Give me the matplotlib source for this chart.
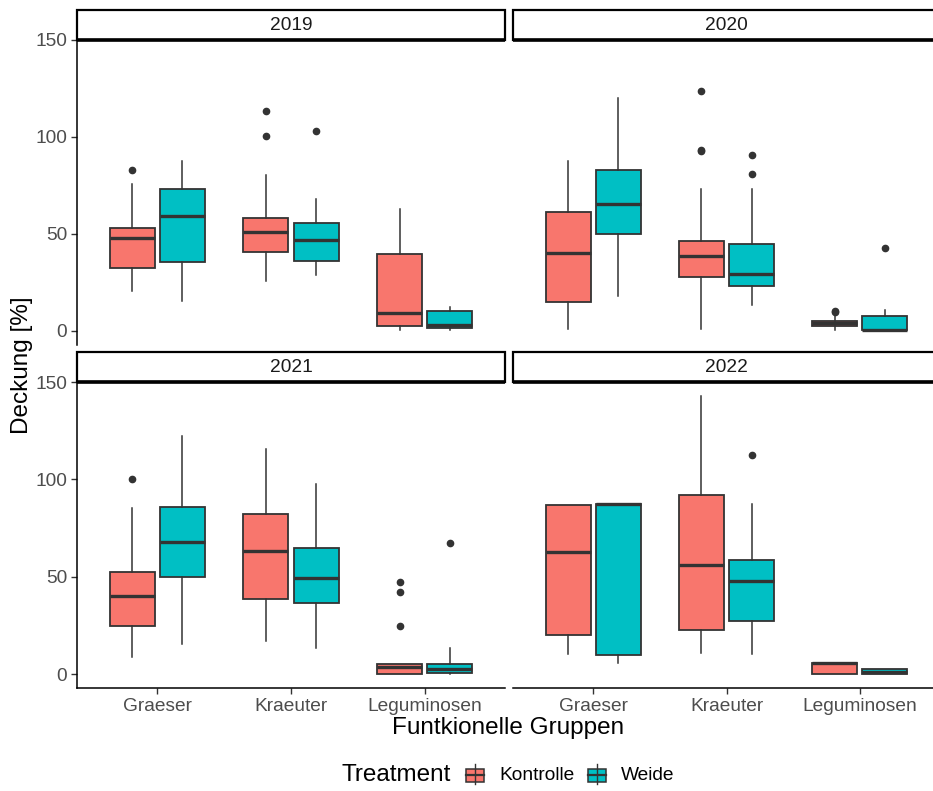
import matplotlib
matplotlib.use("Agg")
import matplotlib.pyplot as plt
from matplotlib.patches import Rectangle
from matplotlib.lines import Line2D

plt.rcParams['font.family'] = ['Liberation Sans', 'DejaVu Sans']

# ---------------- data ----------------
years = ["2019", "2020", "2021", "2022"]
groups = ["Graeser", "Kraeuter", "Leguminosen"]
treatments = ["Kontrolle", "Weide"]
yticks = [0, 50, 100, 150]

# [whislo, q1, med, q3, whishi] per group
stats_2019_kontrolle = [[20.5, 32.5, 47.6, 52.9, 75.6], [25.6, 40.7, 50.7, 57.9, 80.2], [0.5, 2.6, 8.9, 39.3, 62.7]]
fliers_2019_kontrolle = [[82.6], [113.0, 100.2], []]
stats_2019_weide = [[15.3, 35.2, 59.3, 73.2, 87.5], [28.7, 36.1, 46.7, 55.7, 67.9], [0.5, 1.5, 2.9, 10.0, 12.4]]
fliers_2019_weide = [[], [102.7], []]

stats_2020_kontrolle = [[0.9, 14.9, 40.0, 61.3, 87.5], [0.9, 27.8, 38.5, 46.4, 73.0], [0.5, 2.6, 4.1, 5.2, 7.6]]
fliers_2020_kontrolle = [[], [123.7, 93.3, 92.6], [10.0, 9.6]]
stats_2020_weide = [[17.9, 50.0, 65.3, 82.6, 120.0], [13.2, 23.2, 29.2, 44.8, 73.0], [0.0, 0.3, 0.5, 7.7, 10.5]]
fliers_2020_weide = [[], [90.4, 80.6], [42.8]]

stats_2021_kontrolle = [[8.6, 24.7, 39.9, 52.4, 85.1], [16.8, 38.5, 63.0, 82.3, 115.4], [0.0, 0.0, 3.9, 5.1, 5.1]]
fliers_2021_kontrolle = [[100.0], [], [47.4, 42.1, 24.7]]
stats_2021_weide = [[15.2, 49.8, 67.6, 85.9, 122.1], [13.2, 36.5, 49.1, 64.9, 97.4], [0.0, 0.5, 2.7, 5.1, 13.2]]
fliers_2021_weide = [[], [], [67.4]]

stats_2022_kontrolle = [[10.1, 20.0, 62.7, 87.0, 87.0], [10.6, 22.8, 56.0, 92.1, 142.8], [0.0, 0.0, 5.5, 5.5, 5.5]]
fliers_2022_kontrolle = [[], [], []]
stats_2022_weide = [[5.5, 9.8, 87.5, 87.5, 87.5], [10.1, 27.4, 47.8, 58.7, 87.2], [0.0, 0.0, 0.9, 2.4, 2.7]]
fliers_2022_weide = [[], [112.3], []]

stats = {
    "2019": {"Kontrolle": (stats_2019_kontrolle, fliers_2019_kontrolle), "Weide": (stats_2019_weide, fliers_2019_weide)},
    "2020": {"Kontrolle": (stats_2020_kontrolle, fliers_2020_kontrolle), "Weide": (stats_2020_weide, fliers_2020_weide)},
    "2021": {"Kontrolle": (stats_2021_kontrolle, fliers_2021_kontrolle), "Weide": (stats_2021_weide, fliers_2021_weide)},
    "2022": {"Kontrolle": (stats_2022_kontrolle, fliers_2022_kontrolle), "Weide": (stats_2022_weide, fliers_2022_weide)},
}

colors = {"Kontrolle": "#F8766D", "Weide": "#00BFC4"}
offsets = {"Kontrolle": -0.1875, "Weide": 0.1875}
edge = "#333333"

# ---------------- figure ----------------
W, H = 933, 791
fig = plt.figure(figsize=(W / 100, H / 100), dpi=100)

def px_axes(x0, y0, x1, y1):
    return fig.add_axes([x0 / W, 1 - y1 / H, (x1 - x0) / W, (y1 - y0) / H])

cols = [(77, 505), (513, 940)]
rows = [(39.5, 344.5), (382, 688)]
strips = [(10, 39.5), (352, 382)]

ymin, ymax = -7.14, 149.94

for i, yr in enumerate(years):
    r, c = divmod(i, 2)
    x0, x1 = cols[c]
    y0, y1 = rows[r]
    ax = px_axes(x0, y0, x1, y1)
    for t in treatments:
        st, fl = stats[yr][t]
        bx = []
        for g, s, f in zip(groups, st, fl):
            bx.append(dict(whislo=s[0], q1=s[1], med=s[2], q3=s[3], whishi=s[4], fliers=f, label=g))
        pos = [k + 1 + offsets[t] for k in range(len(groups))]
        ax.bxp(bx, positions=pos, widths=0.3375, patch_artist=True, showcaps=False,
               boxprops=dict(facecolor=colors[t], edgecolor=edge, linewidth=1.3),
               medianprops=dict(color=edge, linewidth=2.4, solid_capstyle='butt'),
               whiskerprops=dict(color=edge, linewidth=1.1),
               flierprops=dict(marker='o', markerfacecolor=edge, markeredgecolor=edge, markersize=4.5))
    ax.set_xlim(0.4, 3.6)
    ax.set_ylim(ymin, ymax)
    for sp in ["top", "right"]:
        ax.spines[sp].set_visible(False)
    ax.set_xticks([1, 2, 3])
    if r == 1:
        ax.set_xticklabels(groups, fontsize=13.8, color="#4D4D4D")
        ax.spines["bottom"].set_linewidth(1.1)
        ax.tick_params(axis='x', length=4, width=1, color=edge, pad=3)
    else:
        ax.spines["bottom"].set_visible(False)
        ax.tick_params(axis='x', length=0, labelbottom=False)
    ax.set_yticks(yticks)
    if c == 0:
        ax.set_yticklabels([str(v) for v in yticks], fontsize=13.8, color="#4D4D4D")
        ax.spines["left"].set_linewidth(1.1)
        ax.tick_params(axis='y', length=4, width=1, color=edge, pad=3)
    else:
        ax.spines["left"].set_visible(False)
        ax.tick_params(axis='y', length=0, labelleft=False)
    ax.patch.set_alpha(0)

    # strip
    sy0, sy1 = strips[r]
    sax = px_axes(x0, sy0, x1, sy1)
    sax.set_xlim(0, 1)
    sax.set_ylim(0, 1)
    sax.axis("off")
    sax.add_patch(Rectangle((0, 0), 1, 1, facecolor="white", edgecolor="black", linewidth=1.6,
                            transform=sax.transAxes, clip_on=False))
    sax.plot([0, 1], [0, 0], color="black", linewidth=2.6, transform=sax.transAxes, clip_on=False,
             solid_capstyle='butt')
    sax.text(0.5, 0.47, yr, ha="center", va="center", fontsize=13.8, color="#1A1A1A",
             transform=sax.transAxes)

# axis titles
fig.text(22 / W, 1 - 365 / H, "Deckung [%]", rotation=90, ha="center", va="center", fontsize=17.5, color="black")
fig.text(508 / W, 1 - 728 / H, "Funtkionelle Gruppen", ha="center", va="center", fontsize=17.5, color="black")

# legend
ly = 1 - 775 / H
fig.text(342 / W, ly, "Treatment", ha="left", va="center", fontsize=17.5, color="black")
for t, kx, tx in [("Kontrolle", 466, 499), ("Weide", 588, 621)]:
    kw = 18
    fig.add_artist(Line2D([(kx + kw / 2) / W] * 2, [1 - 764 / H, 1 - 784 / H], color=edge, linewidth=1.0))
    fig.add_artist(Rectangle((kx / W, 1 - 781.5 / H), kw / W, 13 / H, facecolor=colors[t], edgecolor=edge,
                             linewidth=1.1, transform=fig.transFigure))
    fig.add_artist(Line2D([kx / W, (kx + kw) / W], [ly, ly], color=edge, linewidth=1.6))
    fig.text(tx / W, ly, t, ha="left", va="center", fontsize=13.8, color="black")

fig.savefig("out.png", dpi=100)
